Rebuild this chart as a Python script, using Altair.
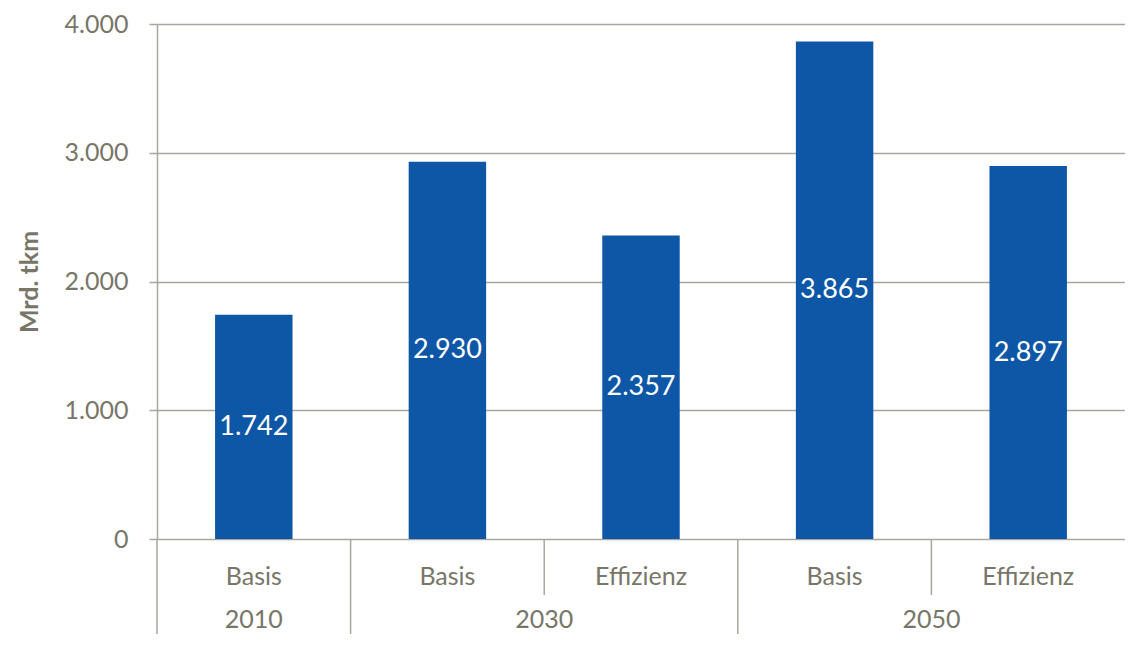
import altair as alt
import pandas as pd

keys = ["2010 Basis", "2030 Basis", "2030 Effizienz", "2050 Basis", "2050 Effizienz"]
years = ["2010", "2030", "2030", "2050", "2050"]
scenarios = ["Basis", "Basis", "Effizienz", "Basis", "Effizienz"]
values = [1742, 2930, 2357, 3865, 2897]
y_ticks = [0, 1000, 2000, 3000, 4000]

df = pd.DataFrame({"key": keys, "year": years, "scenario": scenarios, "value": values})

W = 968
H = 515
FONT = "Lato"
GRAY_TEXT = "#787668"
GRAY_LINE = "#a8a69e"
BLUE = "#0e57a6"

xscale = alt.Scale(paddingInner=0, paddingOuter=0)
xenc = alt.X("key:N", sort=keys, axis=None, scale=xscale)

base = alt.Chart(df)

bars = base.mark_bar(color=BLUE, width=alt.RelativeBandSize(0.4)).encode(
    x=xenc,
    y=alt.Y("value:Q", title="Mrd. tkm",
            scale=alt.Scale(domain=[0, 4000], nice=False),
            axis=alt.Axis(values=y_ticks, grid=True, gridColor=GRAY_LINE, gridWidth=1.5,
                          domain=True, domainColor=GRAY_LINE, domainWidth=1.5,
                          ticks=True, tickColor=GRAY_LINE, tickSize=8, tickWidth=1.5,
                          labelFont=FONT, labelFontSize=25, labelColor=GRAY_TEXT,
                          labelPadding=21,
                          labelExpr="replace(format(datum.value, ',d'), ',', '.')",
                          titleFont=FONT, titleFontSize=25, titleFontWeight="bold",
                          titleColor=GRAY_TEXT, titlePadding=22)),
)

labels = base.transform_calculate(
    lab="replace(format(datum.value, ',d'), ',', '.')",
    half="datum.value / 2",
).mark_text(color="white", font=FONT, fontSize=27, baseline="middle").encode(
    x=xenc,
    y=alt.Y("half:Q"),
    text="lab:N",
)

scen_text = base.mark_text(color=GRAY_TEXT, font=FONT, fontSize=25, baseline="middle").encode(
    x=xenc,
    y=alt.value(H + 38),
    text="scenario:N",
)

year_single = base.transform_joinaggregate(n="count()", groupby=["year"]).transform_filter(
    "datum.n == 1"
).mark_text(color=GRAY_TEXT, font=FONT, fontSize=25, baseline="middle").encode(
    x=alt.X("key:N", sort=keys, axis=None, bandPosition=0.5, scale=xscale),
    y=alt.value(H + 81),
    text="year:N",
)

year_double = base.transform_joinaggregate(n="count()", groupby=["year"]).transform_filter(
    "datum.n == 2 && datum.scenario == 'Basis'"
).mark_text(color=GRAY_TEXT, font=FONT, fontSize=25, baseline="middle").encode(
    x=alt.X("key:N", sort=keys, axis=None, bandPosition=1, scale=xscale),
    y=alt.value(H + 81),
    text="year:N",
)

rule_x = alt.X("key:N", sort=keys, axis=None, bandPosition=0, scale=xscale)

rules_full = base.transform_filter("datum.scenario == 'Basis'").mark_rule(
    color=GRAY_LINE, strokeWidth=1.5
).encode(x=rule_x, y=alt.value(H), y2=alt.value(H + 110))

rules_short = base.transform_filter("datum.scenario != 'Basis'").mark_rule(
    color=GRAY_LINE, strokeWidth=1.5
).encode(x=rule_x, y=alt.value(H), y2=alt.value(H + 56))

chart = alt.layer(
    bars, labels, scen_text, year_single, year_double, rules_full, rules_short
).properties(
    width=W, height=H,
    autosize=alt.AutoSizeParams(type="none"),
    padding={"left": 149, "top": 16, "right": 0, "bottom": 95},
).configure_view(stroke=None).configure(background="white")

chart.save("out.html", embed_options={"renderer": "svg", "actions": False})
